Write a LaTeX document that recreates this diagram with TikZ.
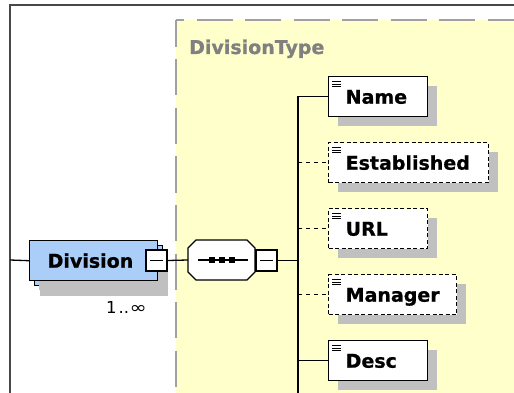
\documentclass[tikz,border=0pt]{standalone}
\usepackage{fontspec}
\setmainfont{DejaVu Sans}[BoldFeatures={FakeBold=0.8}]
\usetikzlibrary{shadows}
\definecolor{yel}{RGB}{255,255,204}
\definecolor{blu}{RGB}{170,206,248}
\definecolor{shd}{RGB}{192,192,192}
\definecolor{frm}{RGB}{72,72,72}
\definecolor{bordergray}{RGB}{160,160,160}
\definecolor{tgray}{RGB}{128,128,128}
\tikzset{
  bigfont/.style={font=\fontsize{19}{19}\selectfont\bfseries},
  elem/.style={draw=black, line width=1.4pt, fill=white, rectangle,
    inner xsep=17pt, inner ysep=13pt, minimum height=40pt,
    text height=14pt, text depth=0pt, align=left, bigfont,
    anchor=north west,
    drop shadow={opacity=1, fill=shd, shadow xshift=9pt, shadow yshift=-9pt}},
  optelem/.style={elem, dash pattern=on 4pt off 2.5pt},
  conn/.style={line width=1.3pt},
  optconn/.style={conn, dash pattern=on 4pt off 4pt},
  minusbox/.style={draw=black, line width=1.4pt, fill=white, rectangle,
    minimum size=21pt, inner sep=0pt},
  iconline/.style={line width=0.9pt},
  typeborder/.style={draw=bordergray, line width=2pt, dash pattern=on 36pt off 12.5pt},
  framestyle/.style={draw=frm, line width=2pt},
  octpath/.style={line width=1.4pt, line join=miter}
}
\def\octagon#1{([shift={(8,0)}]#1.north west) -- ([shift={(-8,0)}]#1.north east) -- ([shift={(0,8)}]#1.north east) -- ([shift={(0,-8)}]#1.south east) -- ([shift={(-8,0)}]#1.south east) -- ([shift={(8,0)}]#1.south west) -- ([shift={(0,-8)}]#1.south west) -- ([shift={(0,8)}]#1.north west) -- cycle}
\begin{document}
\begin{tikzpicture}[x=1pt,y=-1pt]
\useasboundingbox (0,0) rectangle (514,393);
\clip (0,0) rectangle (514,393);
% type region
\fill[yel] (176,20) rectangle (530,410);
\draw[typeborder, dash phase=28pt] (176,20) -- (530,20);
\draw[typeborder, dash phase=9pt] (176,20) -- (176,410);
% outer frame
\draw[framestyle] (514,5) -- (10,5) -- (10,393);
\node[anchor=base west, text=tgray, bigfont, inner sep=0pt] (dtype) at (189,54) {DivisionType};

% connector coordinates
\coordinate (framept) at (10,260);
\coordinate (busbot) at (298,400);

% Division element (repeated)
\node[draw=black, line width=1.4pt, fill=blu, rectangle, anchor=north west,
  minimum width=128pt, minimum height=40pt, inner sep=0pt,
  drop shadow={opacity=1, fill=shd, shadow xshift=5pt, shadow yshift=-10pt}] (divback) at (34,245) {};
\draw[draw=frm, line width=1pt] ([xshift=-30.5pt]divback.south east) -- ([xshift=-23.5pt,yshift=8pt]divback.south east) -- ([xshift=-16.5pt]divback.south east);
\node[elem, fill=blu, drop shadow={opacity=0}, inner xsep=18pt, text width=92pt] (div) at (29,240) {Division};
\node[minusbox] (divminus) at (156.5,260.5) {};
\draw[line width=1.3pt] ([xshift=-6.5pt]divminus.center) -- ([xshift=6.5pt]divminus.center);
\node[anchor=base east, inner sep=0pt, font=\fontsize{16.5}{16.5}\selectfont] (card) at (147,313) {1\kern2pt..\kern0.5pt\scalebox{1.25}[1]{∞}};

% sequence compositor (octagon)
\node[rectangle, minimum width=67pt, minimum height=40pt, inner sep=0pt, outer sep=0pt] (seq) at (221.5,260) {};
\begin{scope}[shift={(8,8)}]
  \fill[shd] \octagon{seq};
\end{scope}
\filldraw[octpath, fill=white, draw=black] \octagon{seq};
\draw[line width=1.3pt] ([xshift=10pt]seq.west) -- ([xshift=-7pt]seq.east);
\foreach \dx in {-10,0,10} {
  \fill ([xshift=\dx pt]seq.center) ++(-3,-3) rectangle ++(6,6);
}
\node[minusbox] (seqminus) at (266.5,260.5) {};
\draw[line width=1.3pt] ([xshift=-6.5pt]seqminus.center) -- ([xshift=6.5pt]seqminus.center);

% children
\node[elem, text width=65pt] (name) at (328,76) {\mbox{Name}};
\node[optelem, text width=126pt] (est) at (328,142) {\mbox{Established}};
\node[optelem, text width=65pt] (url) at (328,208) {\mbox{URL}};
\node[optelem, text width=94pt] (mgr) at (328,274) {\mbox{Manager}};
\node[elem, text width=65pt] (desc) at (328,340) {\mbox{Desc}};
\foreach \n in {name,est,url,mgr,desc} {
  \foreach \dy in {5.3,8,10.7} {
    \draw[iconline] ([shift={(4.3,\dy)}]\n.north west) -- ([shift={(12.7,\dy)}]\n.north west);
  }
}

% connectors
\draw[conn] (framept) -- (div.west);
\draw[conn] (divminus.east) -- (seq.west);
\draw[conn] (seqminus.east) -- (seqminus.east -| busbot);
\draw[conn] (name.west) -- (name.west -| busbot) -- (busbot);
\draw[optconn] (est.west -| busbot) -- (est.west);
\draw[optconn] (url.west -| busbot) -- (url.west);
\draw[optconn] (mgr.west -| busbot) -- (mgr.west);
\draw[conn] (desc.west -| busbot) -- (desc.west);
\end{tikzpicture}
\end{document}
